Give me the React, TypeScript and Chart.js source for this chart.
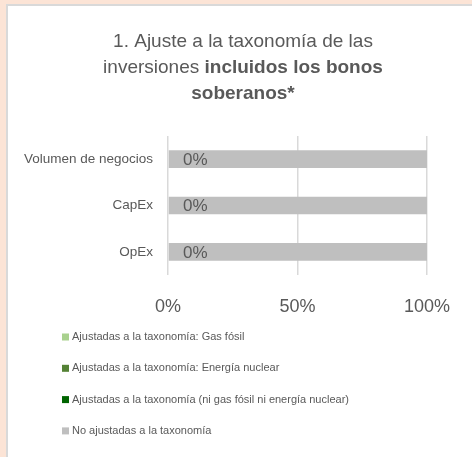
import React, { useEffect, useRef } from "react";
import { Chart, registerables } from "chart.js";

Chart.register(...registerables);

const categories = ["Volumen de negocios", "CapEx", "OpEx"];
const seriesNames = [
  "Ajustadas a la taxonomía: Gas fósil",
  "Ajustadas a la taxonomía: Energía nuclear",
  "Ajustadas a la taxonomía (ni gas fósil ni energía nuclear)",
  "No ajustadas a la taxonomía",
];
const gasFosil = [0, 0, 0];
const energiaNuclear = [0, 0, 0];
const niGasNiNuclear = [0, 0, 0];
const noAjustadas = [100, 100, 100];
const seriesColors = ["#A9D18E", "#548235", "#006400", "#BFBFBF"];
const xTicks = [0, 50, 100];
const titleLines: { text: string; bold: boolean }[][] = [
  [{ text: "1. Ajuste a la taxonomía de las", bold: false }],
  [
    { text: "inversiones ", bold: false },
    { text: "incluidos los bonos", bold: true },
  ],
  [{ text: "soberanos*", bold: true }],
];

const FONT = "'Liberation Sans', Arial, sans-serif";
const TEXT = "#595959";

const titlePlugin = {
  id: "customTitle",
  afterDraw(chart: any) {
    const ctx = chart.ctx;
    ctx.save();
    ctx.fillStyle = TEXT;
    ctx.textBaseline = "alphabetic";
    ctx.textAlign = "left";
    const cx = 243;
    const baselines = [47, 73, 99];
    titleLines.forEach((line, i) => {
      let total = 0;
      const widths = line.map((seg) => {
        ctx.font = `${seg.bold ? "bold " : ""}19px ${FONT}`;
        const w = ctx.measureText(seg.text).width;
        total += w;
        return w;
      });
      let x = cx - total / 2;
      line.forEach((seg, j) => {
        ctx.font = `${seg.bold ? "bold " : ""}19px ${FONT}`;
        ctx.fillText(seg.text, x, baselines[i]);
        x += widths[j];
      });
    });
    ctx.restore();
  },
};

const legendPlugin = {
  id: "customLegend",
  afterDraw(chart: any) {
    const ctx = chart.ctx;
    ctx.save();
    ctx.font = `11px ${FONT}`;
    ctx.textBaseline = "middle";
    ctx.textAlign = "left";
    chart.data.datasets.forEach((ds: any, i: number) => {
      const y = 337 + i * 31.3;
      ctx.fillStyle = ds.backgroundColor;
      ctx.fillRect(62, y - 3.5, 7, 7);
      ctx.fillStyle = TEXT;
      ctx.fillText(ds.label, 72, y);
    });
    ctx.restore();
  },
};

const dataLabelPlugin = {
  id: "alignedLabels",
  afterDatasetsDraw(chart: any) {
    const ctx = chart.ctx;
    const xScale = chart.scales.x;
    const meta = chart.getDatasetMeta(3);
    ctx.save();
    ctx.font = `17px ${FONT}`;
    ctx.fillStyle = TEXT;
    ctx.textBaseline = "middle";
    ctx.textAlign = "left";
    categories.forEach((_, i) => {
      const aligned = gasFosil[i] + energiaNuclear[i] + niGasNiNuclear[i];
      const bar = meta.data[i];
      const x = xScale.getPixelForValue(aligned) + 15;
      ctx.fillText(`${aligned}%`, x, bar.y + 1);
    });
    ctx.restore();
  },
};

export default function App() {
  const ref = useRef<HTMLCanvasElement>(null);
  useEffect(() => {
    if (!ref.current) return;
    const values = [gasFosil, energiaNuclear, niGasNiNuclear, noAjustadas];
    const chart = new Chart(ref.current, {
      type: "bar",
      data: {
        labels: categories,
        datasets: seriesNames.map((name, i) => ({
          label: name,
          data: values[i],
          backgroundColor: seriesColors[i],
          borderWidth: 0,
          categoryPercentage: 1,
          barPercentage: 0.38,
        })),
      },
      options: {
        indexAxis: "y",
        animation: false,
        responsive: false,
        maintainAspectRatio: false,
        layout: { padding: { top: 136, left: 0, right: 45, bottom: 137 } },
        plugins: {
          legend: { display: false },
          title: { display: false },
          tooltip: { enabled: false },
        },
        scales: {
          x: {
            stacked: true,
            min: 0,
            max: 100,
            afterBuildTicks: (scale: any) => {
              scale.ticks = xTicks.map((v) => ({ value: v }));
            },
            afterFit: (scale: any) => {
              scale.height = 45;
            },
            ticks: {
              callback: (v: any) => `${v}%`,
              color: TEXT,
              font: { family: FONT, size: 18 },
              padding: 21,
              maxRotation: 0,
            },
            grid: { color: "#D9D9D9", lineWidth: 1.5, drawTicks: false },
            border: { display: false },
          },
          y: {
            stacked: true,
            afterFit: (scale: any) => {
              scale.width = 168;
            },
            ticks: {
              color: TEXT,
              font: { family: FONT, size: 13.5 },
              padding: 15,
            },
            grid: { display: false, drawTicks: false },
            border: { display: false },
          },
        },
      },
      plugins: [titlePlugin, legendPlugin, dataLabelPlugin],
    });
    return () => chart.destroy();
  }, []);

  return (
    <div
      style={{
        position: "fixed",
        left: 0,
        top: 0,
        width: 472,
        height: 457,
        background: "#FCE4D6",
        overflow: "hidden",
      }}
    >
      <div
        style={{
          position: "absolute",
          left: 6,
          top: 4,
          width: 480,
          height: 470,
          background: "#FFFFFF",
          borderLeft: "2px solid #D9D9D9",
          borderTop: "2px solid #D9D9D9",
        }}
      />
      <canvas
        ref={ref}
        width={472}
        height={457}
        style={{ position: "absolute", left: 0, top: 0, width: 472, height: 457 }}
      />
    </div>
  );
}
